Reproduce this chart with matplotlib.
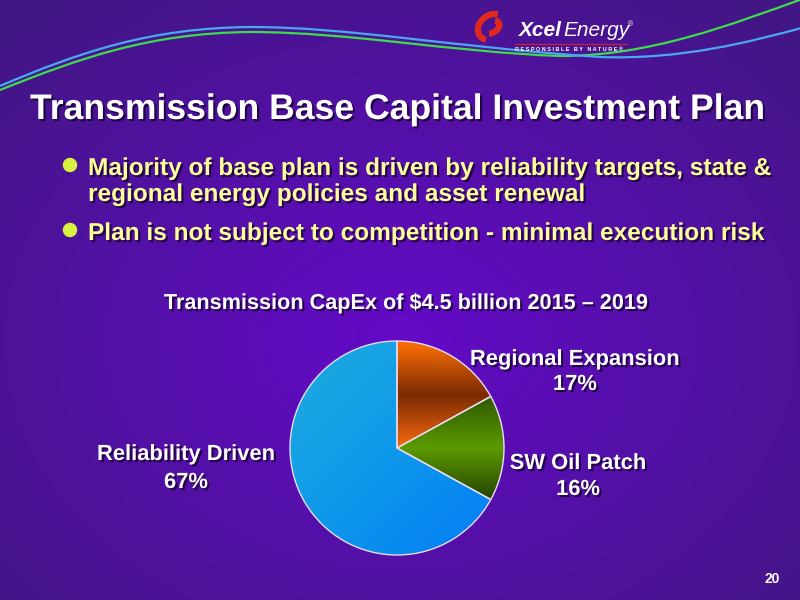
import numpy as np
import matplotlib.pyplot as plt
import matplotlib.patheffects as pe
from matplotlib.path import Path
from matplotlib.patches import PathPatch, Circle, Arc

plt.rcParams['font.family'] = ['Liberation Sans', 'DejaVu Sans']

title = "Transmission Base Capital Investment Plan"
bullet_lines = [
    ["Majority of base plan is driven by reliability targets, state &",
     "regional energy policies and asset renewal"],
    ["Plan is not subject to competition - minimal execution risk"],
]
chart_title = "Transmission CapEx of $4.5 billion 2015 \u2013 2019"
segments = ["Regional Expansion", "SW Oil Patch", "Reliability Driven"]
shares = [17, 16, 67]
page_no = "20"

W, H = 800, 600
fig = plt.figure(figsize=(8, 6), dpi=100)

# background, pixel coordinates (y down)
bg = fig.add_axes([0, 0, 1, 1])
bg.set_xlim(0, W)
bg.set_ylim(H, 0)
bg.axis('off')
yy, xx = np.mgrid[0:H, 0:W]
r = np.clip(np.hypot((xx - 400) / 560, (yy - 340) / 430), 0, 1)
inner = np.array([100, 10, 200]) / 255
outer = np.array([66, 22, 132]) / 255
bg.imshow(inner + (outer - inner) * r[..., None], extent=(0, W, H, 0), aspect='auto', zorder=0)


def curve(pts, color):
    codes = [Path.MOVETO] + [Path.CURVE4] * (len(pts) - 1)
    bg.add_patch(PathPatch(Path(pts, codes), fill=False, edgecolor=color, lw=1.6, zorder=1))


curve([(0, 90), (80, 58), (150, 33), (250, 32), (350, 32), (450, 52), (560, 56),
       (650, 56), (730, 25), (805, -2)], '#3ddc4a')
curve([(0, 86), (80, 52), (150, 28), (250, 27), (350, 27), (450, 47), (600, 57),
       (680, 60), (750, 42), (805, 27)], '#4aa8f0')

# logo
bg.add_patch(Arc((492, 27), 30, 24, angle=-35, theta1=150, theta2=330, lw=4.5, color='#e0281c', zorder=2))
bg.add_patch(Arc((492, 27), 16, 11, angle=-35, theta1=-30, theta2=150, lw=4.5, color='#e0281c', zorder=2))
bg.text(519, 36, "Xcel", color='white', fontsize=15, fontweight='bold', style='italic', zorder=3)
bg.text(563, 36, "Energy", color='white', fontsize=15, style='italic', zorder=3)
bg.text(628, 26, "\u00ae", color='white', fontsize=5, zorder=3)
bg.plot([515, 627], [44, 44], color='#c02040', lw=1, zorder=3)
bg.text(515, 49.5, "R E S P O N S I B L E   B Y   N A T U R E \u00ae", color='white',
        fontsize=4.0, fontweight='bold', va='center', zorder=3)

shadow = [pe.withSimplePatchShadow(offset=(1.5, -1.5), shadow_rgbFace='#1a0038', alpha=0.85)]

bg.text(30, 119, title, color='white', fontsize=25.6, fontweight='bold', va='baseline',
        path_effects=shadow, zorder=3)

line_y = [[175, 201], [240]]
for lines, ys in zip(bullet_lines, line_y):
    bg.add_patch(Circle((70, ys[0] - 10), 6.5, color='#d8f040', zorder=3))
    for txt, y in zip(lines, ys):
        bg.text(88, y, txt, color='#ffff99', fontsize=17.6, fontweight='bold', va='baseline',
                path_effects=shadow, zorder=3)

bg.text(406, 309, chart_title, color='white', fontsize=15.6, fontweight='bold', ha='center',
        va='baseline', path_effects=shadow, zorder=3)

label_pos = [(575, 365, 390), (578, 469, 495), (186, 460, 488)]
for name, share, (x, y1, y2) in zip(segments, shares, label_pos):
    bg.text(x, y1, name, color='white', fontsize=15.8, fontweight='bold',
            ha='center', va='baseline', path_effects=shadow, zorder=3)
    bg.text(x, y2, f"{share}%", color='white', fontsize=15.8, fontweight='bold',
            ha='center', va='baseline', path_effects=shadow, zorder=3)

bg.text(772, 583, page_no, color='white', fontsize=10, fontweight='bold', ha='center',
        va='baseline', zorder=3)

# pie
R = 107
ax = fig.add_axes([(397 - R) / W, (H - 448 - R) / H, 2 * R / W, 2 * R / H])
wedges, _ = ax.pie(shares, startangle=90, counterclock=False,
                   wedgeprops=dict(edgecolor='#e6ddf2', linewidth=1))
ax.set_xlim(-1, 1)
ax.set_ylim(-1, 1)
ax.patch.set_alpha(0)

gy, gx = np.mgrid[-1:1:300j, -1:1:300j]


def ramp(t, stops, colors):
    cols = np.array([[int(c[i:i + 2], 16) / 255 for i in (1, 3, 5)] for c in colors])
    return np.stack([np.interp(t, stops, cols[:, k]) for k in range(3)], axis=-1)


fills = [
    ramp(gy, [0.05, 0.5, 0.95], ['#ec6410', '#7a2a02', '#f46a06']),
    ramp(gy, [-0.55, 0.0, 0.5], ['#1e3600', '#5c9a00', '#2e5600']),
    ramp(gx - gy, [-1.4, 0.0, 1.6], ['#1aa6e2', '#0e98ea', '#0580f4']),
]
for w, img in zip(wedges, fills):
    w.set_facecolor('none')
    im = ax.imshow(img, extent=(-1, 1, -1, 1), origin='lower', zorder=0.5)
    im.set_clip_path(w)

fig.savefig("out.png", dpi=100)
